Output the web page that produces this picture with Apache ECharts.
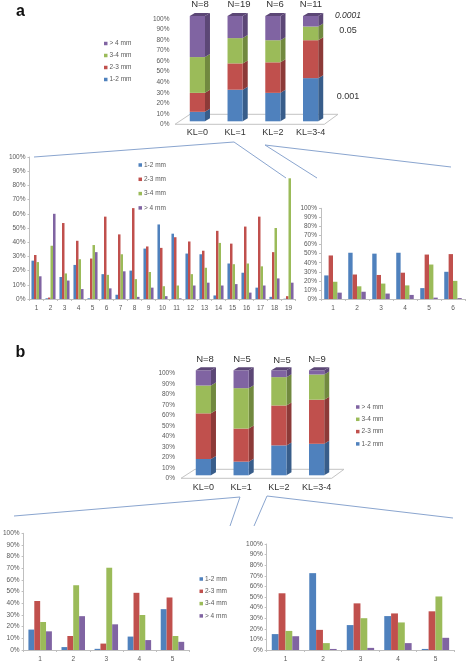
<!DOCTYPE html>
<html><head><meta charset="utf-8">
<style>html,body{margin:0;padding:0;background:#fff}#c{width:467px;height:663px}</style>
<script src="https://cdn.jsdelivr.net/npm/echarts@6/dist/echarts.min.js"></script>
</head><body><div id="c"></div>
<script>
const sizeNames = ['1-2 mm','2-3 mm','3-4 mm','> 4 mm'];
const klCats = ['KL=0','KL=1','KL=2','KL=3-4'];
const a1Size12 = [9,30,27,41];
const a1Size23 = [18,25,29,36];
const a1Size34 = [34,24,21,13];
const a1Size4  = [39,21,23,10];
const a2Cats = ['1','2','3','4','5','6','7','8','9','10','11','12','13','14','15','16','17','18','19'];
const a2Size12 = [27,0.5,15.5,24,0.5,17.5,3,20,35.5,52.5,46,32,31.5,2.5,25,18.5,8,1.5,0.2];
const a2Size23 = [31,1,53.5,41,28.5,58,45.5,64,37,36,43.5,40.5,34,48,39,51,58,33,2];
const a2Size34 = [26,37.5,18,28,38,17,31.5,14,19,9,9.5,17.5,22,39.5,24.5,25,23,50,85];
const a2Size4  = [16,60,13,7,33,7.5,19.5,1.5,8,2,0.5,9.5,11.5,9.5,10.5,4.5,9.5,14.5,11.5];
const a3Cats = ['1','2','3','4','5','6'];
const a3Size12 = [26,51,50,51,12,30];
const a3Size23 = [48,27,26.5,29,49,49.5];
const a3Size34 = [19,14,17,15,38,20];
const a3Size4  = [7,8,6,4.5,1.5,1];
const b1Size12 = [15.5,13,28.5,30];
const b1Size23 = [43.5,31.5,38,42];
const b1Size34 = [26.5,38.5,27,24];
const b1Size4  = [14.5,17,6.5,4];
const b2Cats = ['1','2','3','4','5'];
const b2Size12 = [17.5,2.5,1,11.5,35];
const b2Size23 = [42,12,5.5,49,45];
const b2Size34 = [24,55.5,70.5,30,12];
const b2Size4  = [16,29,22,8.5,7];
const b3Cats = ['1','2','3','4','5'];
const b3Size12 = [15,72.5,23.5,32,1];
const b3Size23 = [53.5,19,44,34.5,36.5];
const b3Size34 = [18,6.5,30,26,50.5];
const b3Size4  = [13,1,2,6.5,11.5];

const colors = ['#4f81bd','#c0504d','#9bbb59','#8064a2'];
const darks  = ['#385d8a','#8c3a38','#71893f','#5c4776'];
const FONT = '"Liberation Sans", Arial, sans-serif';
const TICK = '#595959', AXIS = '#bfbfbf', LINK = '#8aa5cf';

const grids=[], xAxes=[], yAxes=[], series=[];
function addAxes(cats, box, opt){
  const i = grids.length;
  grids.push({left:box[0], top:box[1], width:box[2], height:box[3], containLabel:false});
  xAxes.push({type:'category', gridIndex:i, data:cats,
    axisLine:{show:!opt.solid, lineStyle:{color:AXIS,width:1}},
    axisTick:{show:!opt.solid, length:2, lineStyle:{color:AXIS}, alignWithLabel:false},
    axisLabel:{interval:0, color:opt.xColor||TICK, fontFamily:FONT, fontSize:opt.xSize||6.5, margin:opt.xMargin||6},
    splitLine:{show:false}});
  yAxes.push({type:'value', gridIndex:i, min:0, max:100, interval:10, offset:opt.offset||0,
    axisLine:{show:!opt.solid, lineStyle:{color:AXIS,width:1}},
    axisTick:{show:!opt.solid, length:2, lineStyle:{color:AXIS}},
    axisLabel:{color:TICK, fontFamily:FONT, fontSize:6.5, margin:opt.yMargin||4, formatter:'{value}%'},
    splitLine:{show:false}});
  return i;
}
function groupBars(cats, box, rows, gap){
  const i = addAxes(cats, box, {});
  rows.forEach((vals,k)=>series.push({name:sizeNames[k], type:'bar', xAxisIndex:i, yAxisIndex:i, data:vals,
    barGap:0, barCategoryGap:gap, itemStyle:{color:colors[k]}, emphasis:{disabled:true}, animation:false}));
}
function solidBars(box, rows, opt){
  const i = addAxes(klCats, box, {solid:true, offset:opt.offset, yMargin:opt.yMargin, xSize:9, xColor:'#333', xMargin:opt.xMargin});
  const base = klCats.map(()=>0);
  rows.forEach((vals,k)=>{
    const data = vals.map((v,c)=>{const d=[c,base[c],base[c]+v]; base[c]+=v; return d;});
    series.push({name:sizeNames[k], type:'custom', xAxisIndex:i, yAxisIndex:i, data, z:3, animation:false,
      itemStyle:{color:colors[k]}, encode:{x:0,y:[1,2]},
      renderItem:(p,api)=>{
        const lo=api.coord([api.value(0),api.value(1)]), hi=api.coord([api.value(0),api.value(2)]);
        const w=7.6, dx=5, dy=3, lift=3;
        const x0=lo[0]-w, x1=lo[0]+w, yb=lo[1]-lift, yt=hi[1]-lift;
        const kids=[
          {type:'polygon',shape:{points:[[x1,yb],[x1+dx,yb-dy],[x1+dx,yt-dy],[x1,yt]]},style:{fill:darks[k]}},
          {type:'rect',shape:{x:x0,y:yt,width:2*w,height:yb-yt},style:{fill:colors[k]}}
        ];
        if(k===rows.length-1) kids.push({type:'polygon',shape:{points:[[x0,yt],[x0+dx,yt-dy],[x1+dx,yt-dy],[x1,yt]]},style:{fill:darks[k]}});
        return {type:'group',children:kids};
      }});
  });
}
solidBars([178.5,19,151,105.3],[a1Size12,a1Size23,a1Size34,a1Size4],{offset:4,yMargin:5,xMargin:4});
groupBars(a2Cats,[29.5,157,266,142],[a2Size12,a2Size23,a2Size34,a2Size4],'28%');
groupBars(a3Cats,[321,208.3,144,90.7],[a3Size12,a3Size23,a3Size34,a3Size4],'27%');
solidBars([184.5,373.3,151,105],[b1Size12,b1Size23,b1Size34,b1Size4],{offset:3.5,yMargin:6,xMargin:5});
groupBars(b2Cats,[21,533.3,168,117.7],[b2Size12,b2Size23,b2Size34,b2Size4],'29%');
groupBars(b3Cats,[266.7,544,187.5,106.7],[b3Size12,b3Size23,b3Size34,b3Size4],'27%');

function legend(left, top, gap, names){
  return {left, top, orient:'vertical', itemWidth:3.5, itemHeight:3.5, itemGap:gap, data:names.map(n=>({name:n,icon:'rect'})),
    selectedMode:false, padding:0, textStyle:{fontFamily:FONT,fontSize:6.5,color:TICK,padding:[0,0,0,-3]}};
}
const rev=[...sizeNames].reverse();
const legends=[
  legend(104,40,5,rev),
  legend(138.5,161.5,7.3,sizeNames),
  legend(356,403.5,5.3,rev),
  legend(199.5,575.5,5.3,sizeNames)
];
const txt=(x,y,t,size,extra)=>({type:'text',x,y,z:10,style:Object.assign({text:t,fontFamily:FONT,fontSize:size,fill:'#333',textAlign:'center',textVerticalAlign:'middle'},extra||{})});
const line=(pts)=>({type:'polyline',z:0,shape:{points:pts},style:{stroke:LINK,lineWidth:1,fill:null}});
const floor=(pts)=>({type:'polygon',z:0,shape:{points:pts},style:{stroke:'#c4c4c4',lineWidth:1,fill:'#fff'}});
const graphic=[
  floor([[175,124.3],[190,114.3],[338,114.3],[324.3,124.3]]),
  floor([[181,478.3],[195,469.3],[344,469.3],[331.7,478.3]]),
  line([[34,157],[234,142],[286,178]]),
  line([[317,178],[265,145],[451,167]]),
  line([[14,516],[240,497],[230,526]]),
  line([[254,526],[267,496],[453,518]]),
  txt(200,4,'N=8',9.5),txt(239,4,'N=19',9.5),txt(275,4,'N=6',9.5),txt(311,4,'N=11',9.5),
  txt(348,15.5,'0.0001',8.5,{fontStyle:'italic'}),txt(348,31,'0.05',9),txt(348,97,'0.001',9),
  txt(205,359,'N=8',9.5),txt(242,359,'N=5',9.5),txt(282,360,'N=5',9.5),txt(317,359,'N=9',9.5),
  txt(20.5,12,'a',16,{fontWeight:'bold',fill:'#111'}),
  txt(20.5,353,'b',16,{fontWeight:'bold',fill:'#111'})
];
const chart=echarts.init(document.getElementById('c'),null,{renderer:'canvas'});
chart.setOption({backgroundColor:'#fff',animation:false,grid:grids,xAxis:xAxes,yAxis:yAxes,series,legend:legends,graphic:{elements:graphic}});
</script></body></html>
